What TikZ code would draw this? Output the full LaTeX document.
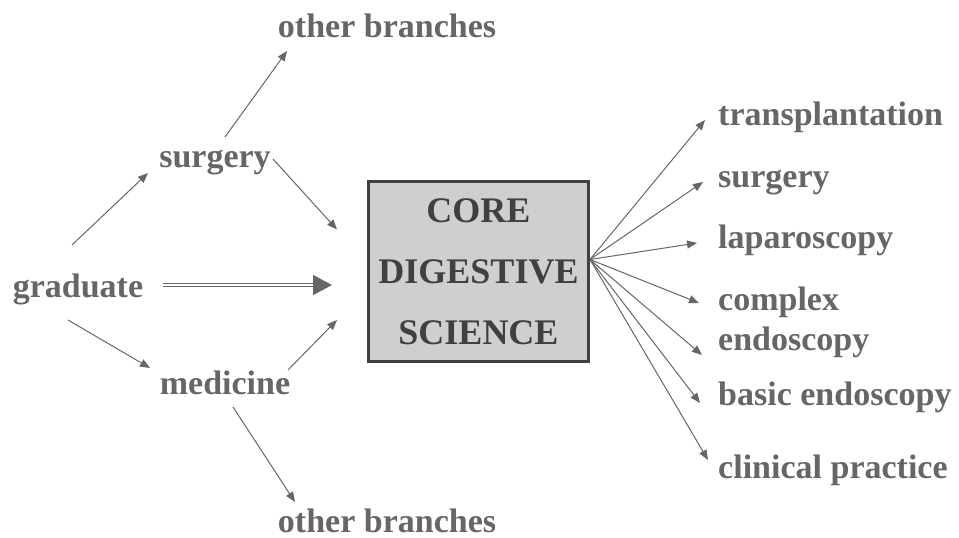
\documentclass[tikz,border=0pt]{standalone}
\usepackage{fontspec}
\setmainfont{Liberation Serif}
\usetikzlibrary{arrows.meta}
\definecolor{txtgray}{HTML}{666666}
\definecolor{darkgray}{HTML}{404040}
\definecolor{boxfill}{HTML}{CFCFCF}
\tikzset{
  lbl/.style={inner sep=0pt, text=txtgray, font=\fontsize{34}{40}\selectfont\bfseries},
  arr/.style={draw=txtgray, line width=1pt, -{Triangle[length=10pt,width=8pt]}},
  dblarr/.style={draw=txtgray, double=white, double distance=2pt, line width=1.3pt,
    -{Triangle[length=19pt,width=20pt]}},
  corebox/.style={draw=darkgray, fill=boxfill, line width=3pt, minimum width=220pt,
    minimum height=180pt, inner sep=0pt, align=center, text=darkgray,
    font=\fontsize{36}{61}\selectfont\bfseries}
}
\begin{document}
\begin{tikzpicture}[x=1pt, y=-1pt]
\useasboundingbox (0,0) rectangle (959,538);

% left side labels
\node[lbl, anchor=base] (ob1) at (387,37) {other branches};
\node[lbl, anchor=base] (surgL) at (215,167) {surgery};
\node[lbl, anchor=base] (grad) at (78,297) {graduate};
\node[lbl, anchor=base] (med) at (225,394) {medicine};
\node[lbl, anchor=base] (ob2) at (387,532) {other branches};

% central box
\node[corebox] (core) at (478.5,271.5) {CORE\\DIGESTIVE\\SCIENCE};

% right side labels
\node[lbl, anchor=base west] (trans) at (718,125) {transplantation};
\node[lbl, anchor=base west] (surgR) at (718,187) {surgery};
\node[lbl, anchor=base west] (lap) at (718,248) {laparoscopy};
\node[lbl, anchor=base west] (cplx) at (718,310) {complex};
\node[lbl, anchor=base west] (endo) at (718,350) {endoscopy};
\node[lbl, anchor=base west] (basic) at (718,405) {basic endoscopy};
\node[lbl, anchor=base west] (clin) at (718,478) {clinical practice};

% left side connectors
\draw[arr] ([shift={(-6,-52)}]grad.base) -- ([shift={(-67,6)}]surgL.base);
\draw[arr] ([shift={(10,-30)}]surgL.base) -- ([shift={(-100,14)}]ob1.base);
\draw[arr] ([shift={(58,-8)}]surgL.base) -- ([shift={(-30,-42)}]core.west);
\draw[dblarr] ([shift={(85,-12)}]grad.base) -- ([shift={(-35,13.5)}]core.west);
\draw[arr] ([shift={(-10,23)}]grad.base) -- ([shift={(-75,-26)}]med.base);
\draw[arr] ([shift={(63,-24)}]med.base) -- ([shift={(-30,48.5)}]core.west);
\draw[arr] ([shift={(8,13)}]med.base) -- ([shift={(-92,-30)}]ob2.base);

% fan of connectors out of the box
\coordinate (fan) at ([shift={(0,-12)}]core.east);
\draw[arr] (fan) -- ([shift={(-13,-5)}]trans.base west);
\draw[arr] (fan) -- ([shift={(-15,-5)}]surgR.base west);
\draw[arr] (fan) -- ([shift={(-21,-5)}]lap.base west);
\draw[arr] (fan) -- ([shift={(-19,-7)}]cplx.base west);
\draw[arr] (fan) -- ([shift={(-16,5)}]endo.base west);
\draw[arr] (fan) -- ([shift={(-18,-2)}]basic.base west);
\draw[arr] (fan) -- ([shift={(-10,-18)}]clin.base west);
\end{tikzpicture}
\end{document}
